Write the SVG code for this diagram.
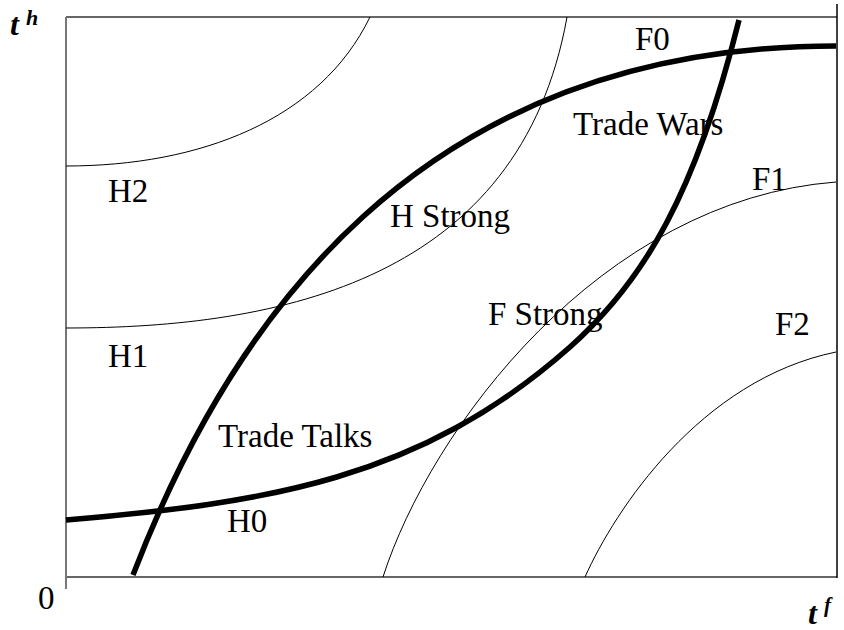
<svg xmlns="http://www.w3.org/2000/svg" width="844" height="630" viewBox="0 0 844 630">
<style>
.frame{stroke:#333;stroke-width:1.5;fill:none}
.thin{stroke:#000;stroke-width:1;fill:none}
.thick{stroke:#000;stroke-width:5.5;fill:none}
.lbl{font-family:"Liberation Serif","Times New Roman",serif;font-size:33px;fill:#000}
.ax{font-family:"Liberation Serif","Times New Roman",serif;font-style:italic;font-weight:bold;fill:#000}
</style>
<rect width="844" height="630" fill="#fff"/>
<g id="axes">
<line class="frame" x1="66" y1="17" x2="837" y2="17"/>
<line x1="66" y1="17" x2="66" y2="589" stroke="#777" stroke-width="2"/>
<line class="frame" x1="67" y1="577" x2="837" y2="577"/>
<line x1="837" y1="4" x2="837" y2="578" stroke="#000" stroke-width="1.5"/>
<text class="ax" x="10" y="35" font-size="32">t</text>
<text class="ax" x="26" y="25" font-size="22" font-weight="normal">h</text>
<text class="ax" x="808" y="624" font-size="32">t</text>
<text class="ax" x="824" y="612" font-size="21" font-weight="normal">f</text>
<text class="lbl" x="38" y="609">0</text>
</g>
<g id="connectors">
<path id="H2" class="thin" d="M66,166 C200,166 320,120 370,17"/>
<path id="H1" class="thin" d="M66,328 C280,328 520,280 567,17"/>
<path id="F1" class="thin" d="M383,577 C430,430 600,200 836,182"/>
<path id="F2" class="thin" d="M585,577 C615,510 700,380 836,352"/>
<path id="curveA" class="thick" d="M66,520 C266,503 420,480 570,347 C644,281 695.5,194 739,20"/>
<path id="curveB" class="thick" d="M133,575 C229,325 416,46 836,46"/>
</g>
<g id="labels">
<g id="n-H2"><text class="lbl" x="108" y="202">H2</text></g>
<g id="n-H1"><text class="lbl" x="108" y="367">H1</text></g>
<g id="n-H0"><text class="lbl" x="227" y="532">H0</text></g>
<g id="n-TradeTalks"><text class="lbl" x="218" y="447">Trade Talks</text></g>
<g id="n-HStrong"><text class="lbl" x="390" y="227">H Strong</text></g>
<g id="n-FStrong"><text class="lbl" x="488" y="325">F Strong</text></g>
<g id="n-TradeWars"><text class="lbl" x="573" y="135">Trade Wars</text></g>
<g id="n-F0"><text class="lbl" x="635" y="50">F0</text></g>
<g id="n-F1"><text class="lbl" x="752" y="190">F1</text></g>
<g id="n-F2"><text class="lbl" x="775" y="335">F2</text></g>
</g>
</svg>
